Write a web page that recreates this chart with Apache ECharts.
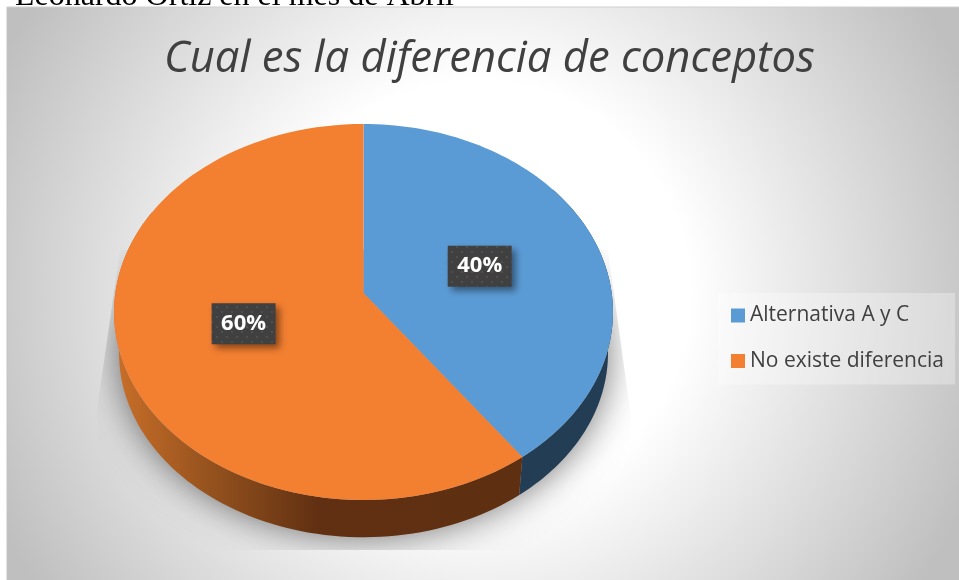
<!DOCTYPE html>
<html>
<head>
<meta charset="utf-8">
<style>html,body{margin:0;padding:0;background:#fff}#c{width:959px;height:580px}</style>
<script src="https://cdn.jsdelivr.net/npm/echarts@6/dist/echarts.min.js"></script>
</head>
<body>
<div id="c"></div>
<script>
var titleText = 'Cual es la diferencia de conceptos';
var captionText = 'Leonardo Ortiz en el mes de Abril';
var categories = ['Alternativa A y C', 'No existe diferencia'];
var values = [40, 60];
var topColors = ['#5b9bd5', '#f37f31'];

// Perspective disc: share of the circle -> screen position
var CX = 363.5, CY = 312, A = 248.2, B = 188, C = -19, K = -0.101;
function project(theta, r) {
  var u = r * Math.sin(theta), v = -r * Math.cos(theta), w = 1 + K * v;
  return [CX + A * u / w, CY + (B * v + C) / w];
}
function lower(p) {
  return [CX + (p[0] - CX) * 0.98, CY + (p[1] - CY) * 0.98 + 41];
}
function arc(a, b) {
  var pts = [], n = 90;
  for (var i = 0; i <= n; i++) pts.push(project(a + (b - a) * i / n, 1));
  return pts;
}
var total = values.reduce(function (s, v) { return s + v; }, 0);

// dotted label fill
var dot = document.createElement('canvas');
dot.width = 10; dot.height = 10;
var g = dot.getContext('2d');
g.fillStyle = '#404040'; g.fillRect(0, 0, 10, 10);
g.fillStyle = '#4f4f4f';
g.fillRect(1, 1, 2, 2); g.fillRect(6, 6, 2, 2);

var sideFills = [
  '#223d54',
  {type: 'linear', x: 0, y: 0, x2: 1, y2: 0, colorStops: [
    {offset: 0, color: '#c96f29'},
    {offset: 0.25, color: '#92501d'},
    {offset: 0.5, color: '#613012'},
    {offset: 1, color: '#5f2f12'}
  ]}
];
var SIDE_MIN = Math.PI * 0.3, SIDE_MAX = Math.PI * 1.65;

function renderSlice(index) {
  return function (params, api) {
    var before = 0;
    for (var i = 0; i < index; i++) before += values[i];
    var val = api.value(0);
    var a = before / total * 2 * Math.PI, b = (before + val) / total * 2 * Math.PI;
    var sa = Math.max(a, SIDE_MIN), sb = Math.min(b, SIDE_MAX);
    var rim = arc(sa, sb);
    var side = rim.concat(rim.slice().reverse().map(lower));
    var mid = project((a + b) / 2, 0.5);
    mid[1] += 1.5;
    var top = [project(0, 0)].concat(arc(a, b));
    var W = 64, H = 41;
    return {type: 'group', children: [
      {type: 'polygon', shape: {points: side}, style: {fill: sideFills[index]}},
      {type: 'polygon', shape: {points: top}, style: {fill: topColors[index]}},
      {type: 'rect', shape: {x: mid[0] - W / 2, y: mid[1] - H / 2, width: W, height: H},
        style: {fill: {image: dot, repeat: 'repeat'}, shadowBlur: 7, shadowOffsetX: 4, shadowOffsetY: 4, shadowColor: 'rgba(0,0,0,0.45)'}},
      {type: 'text', x: mid[0], y: mid[1], style: {
        text: Math.round(val / total * 100) + '%', fill: '#fff', align: 'center', verticalAlign: 'middle',
        font: '700 22px "Open Sans"'}}
    ]};
  };
}
function renderShadow() {
  var rim = arc(0, 2 * Math.PI).map(lower);
  return {type: 'group',
    clipPath: {type: 'polygon', shape: {points: [[120, 250], [608, 250], [630, 410], [630, 550], [97, 550], [97, 410]]}},
    children: [{type: 'polygon', shape: {points: rim}, style: {
      fill: '#aaa', shadowBlur: 36, shadowColor: 'rgba(0,0,0,0.55)'}}]};
}

var series = [{type: 'custom', name: 'sombra', coordinateSystem: 'none', silent: true, data: [0], renderItem: renderShadow, z: 2}];
categories.forEach(function (name, i) {
  series.push({type: 'custom', name: name, coordinateSystem: 'none', silent: true, z: 3,
    itemStyle: {color: topColors[i]}, data: [values[i]], renderItem: renderSlice(i)});
});

var chart = echarts.init(document.getElementById('c'), null, {renderer: 'canvas'});
chart.setOption({
  animation: false,
  backgroundColor: '#fff',
  graphic: [
    {type: 'text', x: 15, y: 13, z: 0, style: {text: captionText, fill: '#000', verticalAlign: 'bottom', font: '32px "Liberation Serif"'}},
    {type: 'rect', z: 1, shape: {x: 7, y: 7, width: 952, height: 573}, style: {
      fill: {type: 'radial', x: 478, y: 293, r: 530, global: true, colorStops: [
        {offset: 0, color: '#ffffff'}, {offset: 0.4, color: '#ffffff'}, {offset: 1, color: '#bfbfbf'}]}}},
    {type: 'line', z: 1, shape: {x1: 7, y1: 7, x2: 959, y2: 7}, style: {stroke: '#cfcfcf', lineWidth: 1}},
    {type: 'line', z: 1, shape: {x1: 7, y1: 7, x2: 7, y2: 580}, style: {stroke: '#c4c4c4', lineWidth: 1}}
  ],
  title: {text: titleText, left: 164, top: 38, padding: 0, textStyle: {
    fontFamily: 'Open Sans', fontStyle: 'italic', fontWeight: 400, fontSize: 43.6, color: '#404040'}},
  legend: {
    orient: 'vertical', left: 718, top: 293, data: categories, icon: 'rect',
    itemWidth: 14, itemHeight: 14, itemGap: 24.5, selectedMode: false,
    padding: [12, 11, 13, 13], backgroundColor: 'rgba(255,255,255,0.3)',
    textStyle: {fontFamily: 'Open Sans', fontSize: 21, color: '#404040', padding: [1, 0, 0, 0]}
  },
  series: series
});
</script>
</body>
</html>
